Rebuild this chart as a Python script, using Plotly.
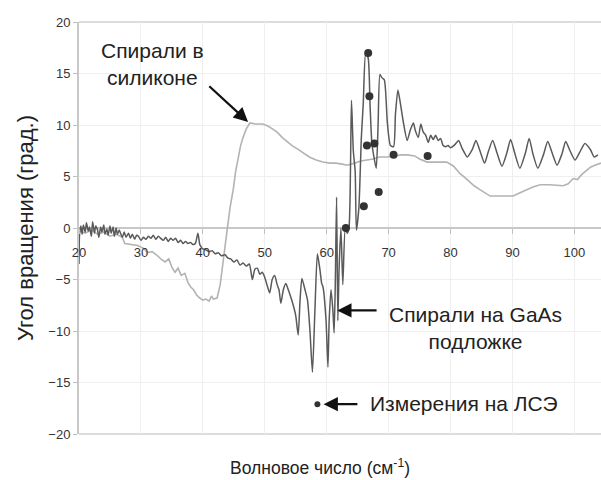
import plotly.graph_objects as go

FONT = "Liberation Sans, Arial, sans-serif"

# Silicon helices (light gray)
si_x = [20, 21, 22, 23, 24, 25, 26, 27, 27.4, 28.5, 29.5, 30.5, 31.0, 31.8, 32.5, 33.2, 33.9, 34.5,
        35.0, 35.5, 36.0, 36.5, 37.1, 37.6, 38.0, 38.5, 39.0, 39.5, 40.0, 40.5, 41.0, 41.4, 41.7,
        42.3, 42.8, 43.1, 43.5, 43.9, 44.4, 44.9, 45.3, 45.7, 46.1, 46.5, 47.0, 47.6, 48.5, 49.7,
        50.5, 51.3, 52.0, 52.8, 53.6, 54.4, 55.2, 56.2, 57.2, 58.3, 59.4, 60.5, 61.5, 62.5, 63.3,
        64.5, 65.5, 66.5, 67.5, 68.5, 69.8, 71, 72, 73, 74.2, 75.0, 76.2, 77.5, 79.4, 80.5, 81.5,
        82.7, 83.8, 84.8, 86.4, 88, 90.1, 91.5, 93.4, 94.5, 96, 98.2, 99, 99.8, 100.5, 101.2, 102.1,
        102.6, 103.3, 104.3]
si_y = [-0.3, -0.5, -0.2, -0.6, -0.4, -0.8, -0.6, -0.9, -1.5, -1.6, -1.7, -2.0, -2.4, -2.3, -2.6,
        -3.0, -3.3, -3.0, -3.8, -4.3, -3.9, -4.6, -4.4, -5.3, -5.7, -6.0, -6.5, -6.8, -7.0, -6.9,
        -7.1, -6.6, -6.9, -6.8, -5.5, -4.1, -2.0, -0.3, 2.0, 3.7, 5.5, 6.9, 8.0, 8.8, 9.6, 10.2,
        10.1, 10.1, 9.9, 9.6, 9.3, 8.8, 8.4, 8.0, 7.7, 7.3, 6.9, 6.6, 6.4, 6.3, 6.3, 6.2, 6.1, 6.3,
        6.5, 6.6, 6.7, 6.9, 6.9, 7.0, 7.1, 7.1, 7.0, 6.7, 6.4, 6.4, 6.4, 6.0, 5.3, 4.7, 4.1, 3.7,
        3.1, 3.1, 3.1, 3.5, 4.0, 4.2, 4.2, 4.1, 4.3, 4.8, 4.7, 5.2, 5.7, 5.9, 6.1, 6.3]

# Helices on GaAs substrate (dark gray)
gaas_x = [20.0, 20.1, 20.3, 20.5, 20.7, 21.0, 21.2, 21.5, 21.7, 22.0, 22.2, 22.5, 22.7, 23.0, 23.2,
          23.5, 23.7, 24.0, 24.2, 24.5, 24.7, 25.0, 25.2, 25.5, 25.7, 26.0, 26.2, 26.5, 26.7, 27.0,
          27.3, 27.6, 28.0, 28.3, 28.6, 29.0, 29.3, 29.6, 30.0, 30.4, 30.8, 31.2, 31.6, 32.0, 32.4,
          32.8, 33.2, 33.6, 34.0, 34.4, 34.8, 35.2, 35.6, 36.0, 36.4, 36.8, 37.2, 37.6, 38.0, 38.4,
          38.8, 39.2, 39.5, 39.6, 39.9, 40.4, 41.0, 41.5, 42.0, 42.5, 43.0, 43.6, 44.0, 44.5, 45.0,
          45.5, 46.0, 46.5, 47.0, 47.5, 48.0, 48.4, 48.8, 49.2, 49.6, 50.0, 50.4, 50.8, 51.2, 51.6,
          52.0, 52.3, 52.6, 53.0, 53.4, 53.8, 54.2, 54.6, 55.0, 55.4, 55.7, 56.0, 56.5, 56.9, 57.3,
          57.7, 58.1, 58.5, 58.9, 59.2, 59.4, 59.9, 60.2, 60.4, 60.7, 61.0, 61.2, 61.4, 61.6, 61.8,
          62.0, 62.3, 62.6, 63.0, 63.3, 63.6, 64.0, 64.3, 64.6, 64.8, 65.2, 65.6, 65.9, 66.3, 66.7,
          67.0, 67.3, 67.6, 68.0, 68.3, 68.6, 68.9, 69.3, 69.8, 70.3, 70.8, 71.1, 71.5, 71.9, 72.4,
          73.0, 73.5, 74.0, 74.3, 74.8, 75.2, 75.6, 76.0, 76.4, 76.8, 77.2, 77.6, 78.0, 78.4, 78.8,
          79.2, 79.6, 80.0, 80.7, 81.3, 81.9, 82.7, 83.5, 84.1, 84.8, 85.5, 86.1, 86.8, 87.5, 88.3,
          89.1, 89.7, 90.4, 91.2, 92.1, 92.7, 93.3, 94.1, 95.0, 95.7, 96.4, 97.2, 98.0, 98.6, 99.3,
          100.1, 100.9, 101.7, 102.6, 103.2, 103.8, 104.3]
gaas_y = [-3.5, -0.5, 0.2, -0.6, 0.3, -0.4, 0.5, -0.3, 0.1, -0.8, 0.6, -0.5, 0.2, -0.2, -0.9, 0.1,
          -0.4, 0.3, -0.6, -0.1, -0.7, 0.2, -0.5, 0.1, -0.8, 0.0, -0.6, -0.2, -0.5, -0.9, -0.4,
          -0.9, -0.5, -1.0, -0.6, -1.1, -0.7, -0.8, -1.2, -0.9, -1.1, -0.8, -1.0, -0.7, -1.1, -0.8,
          -1.0, -1.2, -0.9, -1.3, -1.0, -1.2, -1.0, -1.4, -1.2, -1.5, -1.3, -1.5, -1.4, -1.6, -1.5,
          -0.5, -1.6, -1.7, -2.0, -2.1, -2.3, -2.2, -2.5, -2.4, -2.7, -2.6, -2.9, -3.0, -3.3, -3.1,
          -3.6, -3.4, -3.7, -3.5, -5.0, -4.0, -3.9, -4.5, -4.3, -4.8, -5.6, -6.3, -5.0, -4.6, -5.5,
          -6.0, -7.3, -6.0, -5.4, -6.0, -6.7, -7.5, -8.5, -10.4, -7.0, -4.9, -6.0, -7.0, -10.0,
          -14.0, -8.0, -2.5, -4.0, -5.4, -5.7, -9.0, -13.5, -9.0, -6.0, -8.0, -10.2, -5.0, 3.0, -9.0,
          -4.0, 0.0, -5.5, 0.0, -0.5, 0.0, 12.4, 7.5, 5.5, -0.2, 2.0, 8.8, 12.0, 17.0, 16.5, 12.0, 8.2,
          7.0, 5.8, 10.0, 14.9, 14.6, 14.4, 10.2, 8.0, 7.9, 11.0, 13.4, 12.1, 10.2, 8.5, 9.5, 10.2,
          9.5, 8.8, 10.1, 9.3, 9.0, 8.3, 9.0, 8.6, 9.0, 8.5, 8.7, 8.0, 7.9, 8.0, 7.8, 8.1, 8.5, 7.7,
          6.9, 7.6, 8.5, 7.4, 6.3, 7.4, 8.5, 7.3, 6.0, 7.3, 8.6, 7.2, 5.8, 7.3, 8.7, 7.2, 5.8, 7.1,
          8.4, 7.3, 6.1, 7.2, 8.4, 7.5, 6.6, 7.4, 8.2, 7.6, 6.9, 7.1]

# FEL measurements (dots)
fel_x = [63.1, 66.0, 66.5, 66.7, 66.9, 67.7, 68.4, 70.8, 76.3]
fel_y = [0.0, 2.1, 8.0, 17.0, 12.8, 8.2, 3.5, 7.1, 7.0]

x_ticks = [20, 30, 40, 50, 60, 70, 80, 90, 100]
y_ticks = [-20, -15, -10, -5, 0, 5, 10, 15, 20]

fig = go.Figure()
fig.add_trace(go.Scatter(x=si_x, y=si_y, mode="lines", line=dict(color="#b3b3b3", width=1.6),
                         name="Спирали в силиконе", showlegend=False))
fig.add_trace(go.Scatter(x=gaas_x, y=gaas_y, mode="lines",
                         line=dict(color="#5a5a5a", width=1.5, shape="spline", smoothing=0.6),
                         name="Спирали на GaAs подложке", showlegend=False))
fig.add_trace(go.Scatter(x=fel_x, y=fel_y, mode="markers", marker=dict(color="#333333", size=8),
                         name="Измерения на ЛСЭ", showlegend=False))
# legend-like marker next to the label
fig.add_trace(go.Scatter(x=[58.5], y=[-17.1], mode="markers", marker=dict(color="#333333", size=6),
                         showlegend=False, hoverinfo="skip"))

tf = dict(family=FONT, size=21, color="#222222")
ann = [
    dict(x=31.9, y=15.9, text="Спирали в<br>силиконе", showarrow=False, font=tf,
         xanchor="center", yanchor="middle"),
    dict(x=47.3, y=10.3, ax=40.8, ay=13.9, axref="x", ayref="y", text="", showarrow=True,
         arrowhead=2, arrowsize=1.3, arrowwidth=2.2, arrowcolor="#111111"),
    dict(x=84.0, y=-9.66, text="Спирали на GaAs<br>подложке", showarrow=False, font=tf,
         xanchor="center", yanchor="middle"),
    dict(x=61.7, y=-8.0, ax=68.3, ay=-8.0, axref="x", ayref="y", text="", showarrow=True,
         arrowhead=2, arrowsize=1.3, arrowwidth=2.2, arrowcolor="#111111"),
    dict(x=82.2, y=-17.0, text="Измерения на ЛСЭ", showarrow=False, font=tf,
         xanchor="center", yanchor="middle"),
    dict(x=59.5, y=-17.1, ax=65.2, ay=-17.1, axref="x", ayref="y", text="", showarrow=True,
         arrowhead=2, arrowsize=1.3, arrowwidth=2.2, arrowcolor="#111111"),
    dict(x=0.462, y=-0.08, xref="paper", yref="paper", showarrow=False,
         text="Волновое число (см<sup>-1</sup>)", font=dict(family=FONT, size=17.5, color="#222222"),
         xanchor="center", yanchor="middle"),
]

fig.update_layout(
    width=601, height=480,
    margin=dict(l=79, r=0, t=22, b=46),
    paper_bgcolor="white", plot_bgcolor="white",
    font=dict(family=FONT, color="#333333"),
    annotations=ann,
    shapes=[
        dict(type="line", xref="paper", yref="paper", x0=0, x1=1, y0=1, y1=1,
             line=dict(color="#dcdcdc", width=2), layer="below"),
        dict(type="line", xref="paper", yref="paper", x0=0, x1=1, y0=0, y1=0,
             line=dict(color="#dcdcdc", width=2), layer="below"),
    ],
    xaxis=dict(range=[20, 104.3], tickvals=x_ticks, anchor="free", position=0.5,
               ticks="outside", ticklen=5, tickcolor="#c0c0c0", ticklabelstandoff=7,
               showgrid=True, gridcolor="#efefef", showline=False, zeroline=False,
               tickfont=dict(family=FONT, size=13, color="#333333")),
    yaxis=dict(range=[-20, 20], tickvals=y_ticks, ticks="outside", ticklen=4,
               tickcolor="#c0c0c0", showline=True, linecolor="#c8c8c8", linewidth=2,
               showgrid=True, gridcolor="#efefef", zeroline=True, zerolinecolor="#c8c8c8",
               zerolinewidth=2, tickfont=dict(family=FONT, size=13, color="#333333"),
               title=dict(text="Угол вращения (град.)", standoff=9,
                          font=dict(family=FONT, size=22, color="#222222"))),
)

fig.write_html("out.html")
